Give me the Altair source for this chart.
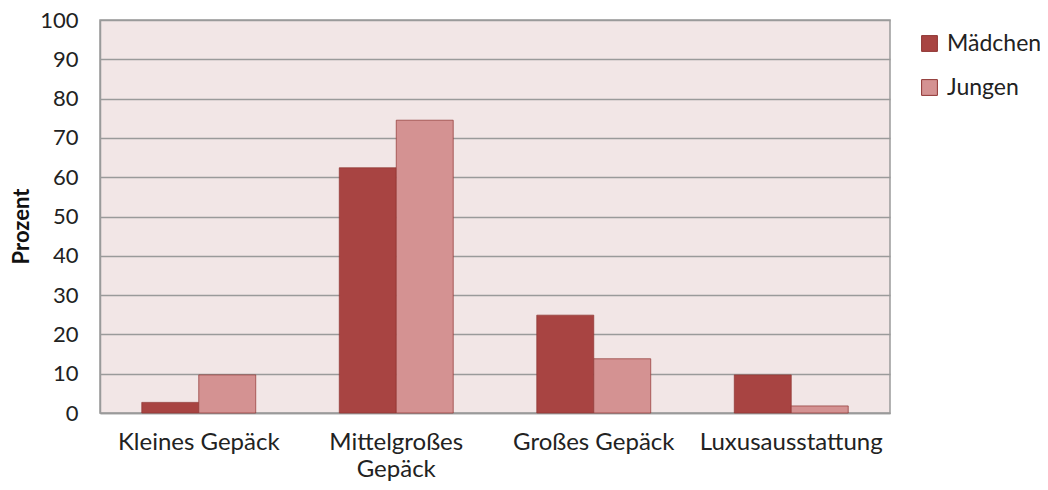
import altair as alt
import pandas as pd

categories = ["Kleines Gepäck", "Mittelgroßes Gepäck", "Großes Gepäck", "Luxusausstattung"]
maedchen = [2.7, 62.4, 24.9, 9.7]
jungen = [9.7, 74.5, 13.8, 1.8]
series = ["Mädchen", "Jungen"]

rows = []
for c, m, j in zip(categories, maedchen, jungen):
    rows.append({"Kategorie": c, "Gruppe": series[0], "Prozent": m})
    rows.append({"Kategorie": c, "Gruppe": series[1], "Prozent": j})
df = pd.DataFrame(rows)

FONT = "Lato"

chart = alt.Chart(df).mark_bar(stroke="#8E3432", strokeWidth=1, strokeOpacity=0.7).encode(
    x=alt.X("Kategorie:N", sort=categories,
            scale=alt.Scale(paddingInner=0.423, paddingOuter=0.2115),
            axis=alt.Axis(title=None, labelAngle=0, ticks=False, labelPadding=17,
                          labelFontSize=24, labelColor="#222222", labelFont=FONT, labelLimit=400,
                          labelLineHeight=27, domainColor="#9a9a9a", domainWidth=1.5,
                          labelExpr="datum.label == 'Mittelgroßes Gepäck' ? ['Mittelgroßes', 'Gepäck'] : datum.label")),
    xOffset=alt.XOffset("Gruppe:N", sort=series),
    y=alt.Y("Prozent:Q", scale=alt.Scale(domain=[0, 100], nice=False),
            axis=alt.Axis(title="Prozent", values=list(range(0, 101, 10)), ticks=False,
                          labelPadding=22, labelFontSize=22, labelColor="#222222", labelFont=FONT,
                          titleFontSize=22, titleFont=FONT, titleFontWeight="bold", titleColor="#111111",
                          titleAngle=-90, titleX=-67, titleY=206, titleBaseline="bottom", titleAlign="center",
                          grid=True, gridColor="#9a9a9a", gridWidth=1.5,
                          domainColor="#9a9a9a", domainWidth=1.5)),
    color=alt.Color("Gruppe:N", sort=series,
                    scale=alt.Scale(domain=series, range=["#A84442", "#D49292"]),
                    legend=alt.Legend(title=None, orient="none", legendX=818, legendY=12,
                                      symbolType="square", symbolSize=250, symbolStrokeColor="#8E3432",
                                      symbolStrokeWidth=1, labelFontSize=23, labelFont=FONT, labelLimit=300,
                                      labelColor="#222222", rowPadding=20, labelOffset=6)),
).properties(
    width=790, height=393,
    background="white",
    padding={"left": 92, "top": 12, "right": 150, "bottom": 69},
    autosize=alt.AutoSizeParams(type="none"),
).configure_view(
    fill="#F2E6E6", stroke="#9a9a9a", strokeWidth=1.5
)

chart.save("out.html", embed_options={"renderer": "svg", "actions": False})
